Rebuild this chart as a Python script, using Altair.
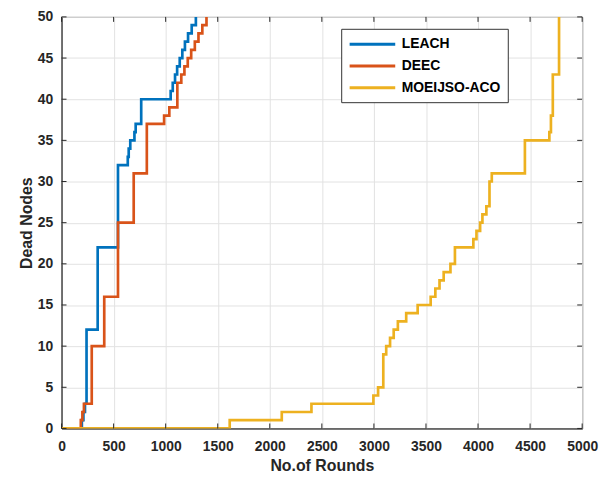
import altair as alt
import pandas as pd

# ---- data ----
series_names = ["LEACH", "DEEC", "MOEIJSO-ACO"]
series_colors = ["#0072BD", "#D95319", "#EDB120"]

leach_rounds = [0, 195, 210, 225, 240, 347, 542, 636, 645, 660, 700, 712, 765,
                1048, 1068, 1090, 1110, 1135, 1160, 1185, 1215, 1250, 1290]
leach_dead = [0, 1, 2, 3, 12, 22, 32, 33, 34, 35, 36, 37, 40,
              41, 42, 43, 44, 45, 46, 47, 48, 49, 50]

deec_rounds = [0, 185, 200, 215, 290, 410, 542, 693, 819, 985, 1035, 1112,
               1150, 1180, 1212, 1245, 1280, 1315, 1352, 1392]
deec_dead = [0, 1, 2, 3, 10, 16, 25, 31, 37, 38, 39, 42,
             43, 44, 45, 46, 47, 48, 49, 50]

moe_rounds = [0, 1615, 2115, 2400, 2995, 3040, 3090, 3118, 3155, 3190, 3230,
              3310, 3420, 3545, 3590, 3630, 3670, 3735, 3778, 3955, 3985,
              4020, 4042, 4080, 4110, 4132, 4450, 4685, 4700, 4718, 4778]
moe_dead = [0, 1, 2, 3, 4, 5, 9, 10, 11, 12, 13,
            14, 15, 16, 17, 18, 19, 20, 22, 23, 24,
            25, 26, 27, 30, 31, 35, 36, 38, 43, 50]

x_ticks = [0, 500, 1000, 1500, 2000, 2500, 3000, 3500, 4000, 4500, 5000]
y_ticks = [0, 5, 10, 15, 20, 25, 30, 35, 40, 45, 50]

# ---- build table ----
rows = []
for name, rr, dd in [("LEACH", leach_rounds, leach_dead),
                     ("DEEC", deec_rounds, deec_dead),
                     ("MOEIJSO-ACO", moe_rounds, moe_dead)]:
    for i, (r, d) in enumerate(zip(rr, dd)):
        rows.append({"series": name, "rounds": r, "dead": d, "order": i})
df = pd.DataFrame(rows)

W, H = 525, 415
FONT = "Liberation Sans"
AX = "#262626"

xs = alt.Scale(domain=[0, 5000], nice=False, zero=False)
ys = alt.Scale(domain=[0, 50], nice=False)

xaxis = alt.Axis(values=x_ticks, format="d", title="No.of Rounds", grid=True,
                 ticks=False, tickSize=0, labelPadding=11, titlePadding=4,
                 labelFont=FONT, labelFontSize=14, labelFontWeight="bold",
                 labelColor=AX, titleFont=FONT, titleFontSize=16,
                 titleFontWeight="bold", titleColor=AX, domainColor=AX,
                 gridColor="#e2e2e2", labelFlush=False)
yaxis = alt.Axis(values=y_ticks, format="d", title="Dead Nodes", grid=True,
                 ticks=False, tickSize=0, labelPadding=9, titlePadding=3,
                 labelFont=FONT, labelFontSize=14, labelFontWeight="bold",
                 labelColor=AX, titleFont=FONT, titleFontSize=16,
                 titleFontWeight="bold", titleColor=AX, domainColor=AX,
                 gridColor="#e2e2e2", labelFlush=False)

lines = alt.Chart(df).mark_line(interpolate="step-after", strokeWidth=2.7,
                                clip=True).encode(
    x=alt.X("rounds:Q", scale=xs, axis=xaxis),
    y=alt.Y("dead:Q", scale=ys, axis=yaxis),
    order="order:Q",
    color=alt.Color("series:N",
                    scale=alt.Scale(domain=series_names, range=series_colors),
                    sort=series_names,
                    legend=alt.Legend(title=None, orient="none", legendX=282,
                                      legendY=12, symbolType="M-1,0H5.57",
                                      symbolSize=196, symbolStrokeWidth=3,
                                      labelFont=FONT, labelFontSize=14,
                                      labelFontWeight="bold", labelColor="black",
                                      strokeColor="#333333", fillColor="white",
                                      padding=7, rowPadding=6, labelOffset=37)),
)

xt = pd.DataFrame({"rounds": x_ticks})
yt = pd.DataFrame({"dead": y_ticks})
xenc = alt.X("rounds:Q", scale=xs, axis=xaxis)
yenc = alt.Y("dead:Q", scale=ys, axis=yaxis)

tb = alt.Chart(xt).mark_rule(color=AX, strokeWidth=1).encode(
    x=xenc, y=alt.value(H), y2=alt.value(H - 5))
tt = alt.Chart(xt).mark_rule(color=AX, strokeWidth=1).encode(
    x=xenc, y=alt.value(0), y2=alt.value(5))
tl = alt.Chart(yt).mark_rule(color=AX, strokeWidth=1).encode(
    y=yenc, x=alt.value(0), x2=alt.value(5))
tr = alt.Chart(yt).mark_rule(color=AX, strokeWidth=1).encode(
    y=yenc, x=alt.value(W), x2=alt.value(W - 5))

chart = alt.layer(lines, tb, tt, tl, tr).properties(
    width=W, height=H,
    padding={"left": 54, "top": 7, "right": 20, "bottom": 49},
    autosize=alt.AutoSizeParams(type="none"),
    background="white",
).configure_view(stroke=AX, strokeWidth=1)

chart.save("out.html", embed_options={"renderer": "svg", "actions": False})
